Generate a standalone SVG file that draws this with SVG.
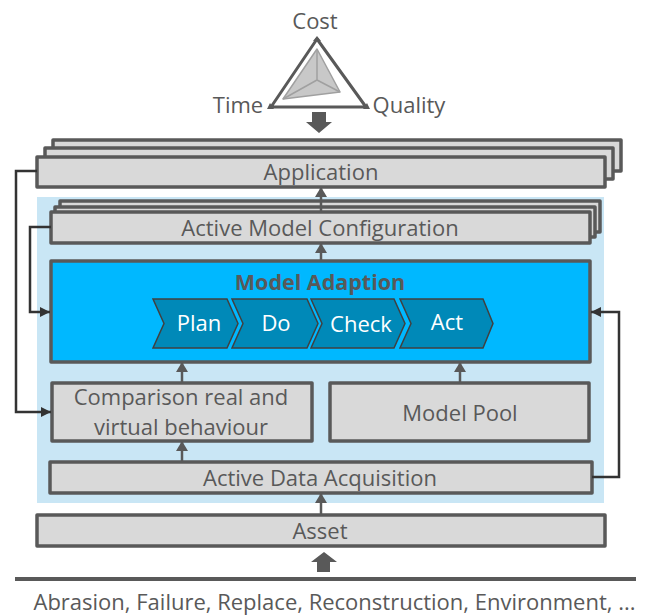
<svg xmlns="http://www.w3.org/2000/svg" width="647" height="615" viewBox="0 0 647 615">
<style>
text{font-family:"Open Sans","Noto Sans","Liberation Sans",sans-serif;font-size:22px;fill:#595959;text-anchor:middle}
.box{fill:#d9d9d9;stroke:#595959;stroke-width:3.5;stroke-linejoin:round}
.chev{fill:#0089b8;stroke:#404040;stroke-width:1.5}
.w{fill:#fff}
.up{fill:none;stroke:#595959;stroke-width:2.5;marker-end:url(#au)}
.fb{fill:none;stroke:#333;stroke-width:2.5;marker-end:url(#af)}
</style>
<defs>
<marker id="au" markerUnits="userSpaceOnUse" markerWidth="12" markerHeight="12" refX="11" refY="6" orient="auto"><path d="M1 0L11 6L1 12Z" fill="#595959"/></marker>
<marker id="af" markerUnits="userSpaceOnUse" markerWidth="12" markerHeight="12" refX="10" refY="5.5" orient="auto"><path d="M0 0.5L10 5.5L0 10.5Z" fill="#333"/></marker>
</defs>
<rect x="37" y="197" width="567" height="306" fill="#c9e6f5"/>
<g id="radar">
<path d="M317 49L340 92L283 99Z" fill="#c8c8c8" stroke="#a0a0a0" stroke-width="1.5" stroke-linejoin="round"/>
<path d="M317 49V80M317 80L340 92M317 80L283 99" fill="none" stroke="#a0a0a0" stroke-width="1.5"/>
<path d="M317 39L271 107H366Z" fill="none" stroke="#595959" stroke-width="3" stroke-linejoin="round"/>
<path d="M317 36l4 5h-8ZM270 103l4 6h-7ZM367 103l-4 6h7Z" fill="#595959"/>
<text x="315" y="29">Cost</text>
<text x="238" y="113">Time</text>
<text x="409" y="113">Quality</text>
</g>
<path id="arrow-down" d="M312 112H326V122H332L319 133L306 122H312Z" fill="#595959"/>
<g id="application">
<rect class="box" x="53" y="140" width="568" height="31"/>
<rect class="box" x="45" y="148" width="568" height="31"/>
<rect class="box" x="37" y="157" width="568" height="30"/>
<text x="321" y="180">Application</text>
</g>
<g id="active-model-configuration">
<rect class="box" x="60" y="201" width="540" height="31"/>
<rect class="box" x="55" y="207" width="540" height="30"/>
<rect class="box" x="51" y="212" width="539" height="31"/>
<text x="320" y="236">Active Model Configuration</text>
</g>
<g id="model-adaption">
<rect x="51" y="261" width="539" height="101" fill="#00b8ff" stroke="#595959" stroke-width="3.500" stroke-linejoin="round"/>
<text x="320" y="290" style="font-weight:700;font-size:21.500px">Model Adaption</text>
</g>
<g id="plan"><path class="chev" d="M153 299H227L238 323.500L227 348H153L164 323.500Z"/><text style="fill:#fff" x="199" y="331">Plan</text></g>
<g id="do"><path class="chev" d="M232 299H307L318 323.500L307 348H232L243 323.500Z"/><text style="fill:#fff" x="276" y="331">Do</text></g>
<g id="check"><path class="chev" d="M311 299H394L405 323.500L394 348H311L322 323.500Z"/><text style="fill:#fff" x="361" y="332">Check</text></g>
<g id="act"><path class="chev" d="M400 299H483L493 323.500L483 348H400L411 323.500Z"/><text style="fill:#fff" x="447" y="330">Act</text></g>
<g id="comparison">
<rect class="box" x="52" y="383" width="260" height="58"/>
<text x="181" y="405">Comparison real and</text>
<text x="181" y="435">virtual behaviour</text>
</g>
<g id="model-pool">
<rect class="box" x="330" y="383" width="259" height="58"/>
<text x="460" y="421">Model Pool</text>
</g>
<g id="active-data-acquisition">
<rect class="box" x="50" y="462" width="542" height="31"/>
<text x="320" y="486">Active Data Acquisition</text>
</g>
<g id="asset">
<rect class="box" x="37" y="515" width="568" height="31"/>
<text x="320" y="539">Asset</text>
</g>
<g id="connectors">
<path class="up" d="M321 212V187"/>
<path class="up" d="M321 261V243"/>
<path class="up" d="M182 383V362"/>
<path class="up" d="M460 383V362"/>
<path class="up" d="M182 462V441"/>
<path class="up" d="M321 515V493"/>
<path class="fb" d="M37 171H16V412H51"/>
<path class="fb" d="M51 227H30V312H50"/>
<path class="fb" d="M592 477H619V312H591"/>
</g>
<path id="arrow-up" d="M317 572V562H311L324 552L337 562H330V572Z" fill="#595959"/>
<rect id="rule" x="15" y="577" width="621" height="4" fill="#595959"/>
<text id="events" x="334.500" y="610">Abrasion, Failure, Replace, Reconstruction, Environment, ...</text>
</svg>
